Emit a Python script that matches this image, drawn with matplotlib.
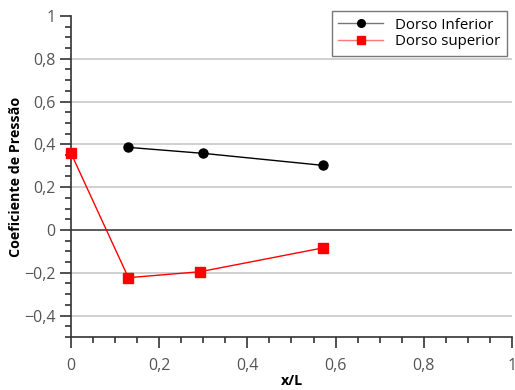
import matplotlib.pyplot as plt
from matplotlib.ticker import MultipleLocator, FuncFormatter

plt.rcParams['font.family'] = ['Open Sans', 'DejaVu Sans']

# dados
x_inf = [0.13, 0.30, 0.571]
cp_inf = [0.386, 0.358, 0.302]
x_sup = [0.0, 0.13, 0.293, 0.571]
cp_sup = [0.358, -0.223, -0.195, -0.084]


def fmt(v, pos):
    if abs(v) < 1e-9:
        return "0"
    s = f"{v:.1f}".rstrip("0").rstrip(".")
    return s.replace(".", ",").replace("-", "\u2212")


fig = plt.figure(figsize=(5.15, 3.9), dpi=100)
ax = fig.add_axes([0.138, 0.136, 0.856, 0.823])

for yv in [-0.4, -0.2, 0.2, 0.4, 0.6, 0.8]:
    ax.axhline(yv, color="#c8c8c8", lw=1.2, zorder=0)
ax.axhline(0, color="#404040", lw=1.2, zorder=1)

ax.plot(x_inf, cp_inf, color="black", lw=1, marker="o", ms=6.5,
        label="Dorso Inferior", clip_on=False, zorder=3)
ax.plot(x_sup, cp_sup, color="red", lw=1, marker="s", ms=6.5,
        label="Dorso superior", clip_on=False, zorder=3)

ax.set_xlim(0, 1)
ax.set_ylim(-0.5, 1)
ax.xaxis.set_major_locator(MultipleLocator(0.2))
ax.xaxis.set_minor_locator(MultipleLocator(0.05))
ax.yaxis.set_major_locator(MultipleLocator(0.2))
ax.yaxis.set_minor_locator(MultipleLocator(0.05))
ax.xaxis.set_major_formatter(FuncFormatter(fmt))
ax.yaxis.set_major_formatter(FuncFormatter(fmt))

for side in ["top", "right"]:
    ax.spines[side].set_visible(False)
for side in ["left", "bottom"]:
    ax.spines[side].set_color("#333333")
    ax.spines[side].set_linewidth(1.2)

ax.tick_params(which="major", direction="out", length=8, width=1.2,
               color="#333333", labelsize=11.5, labelcolor="#555555", pad=3)
ax.tick_params(axis="x", which="major", pad=7)
ax.tick_params(which="minor", direction="out", length=4, width=1.2,
               color="#333333")

ax.set_xlabel("x/L", fontsize=10.3, fontweight="bold", labelpad=0)
ax.set_ylabel("Coeficiente de Pressão", fontsize=10.3, fontweight="bold")
ax.yaxis.set_label_coords(-0.108, 0.5)

leg = ax.legend(loc="upper right", bbox_to_anchor=(1.0, 1.03), fontsize=10.8,
                frameon=True, fancybox=False, borderpad=0.45, handlelength=3.0,
                labelspacing=0.1, handletextpad=0.8, borderaxespad=0.3)
leg.get_frame().set_edgecolor("#555555")
leg.get_frame().set_linewidth(1)
for h, c in zip(leg.legend_handles, ["#777777", "#ff7777"]):
    h.set_color(c)
    h.set_markersize(5.5)
leg.legend_handles[0].set_markerfacecolor("black")
leg.legend_handles[0].set_markeredgecolor("black")
leg.legend_handles[1].set_markerfacecolor("red")
leg.legend_handles[1].set_markeredgecolor("red")

fig.savefig("out.png", dpi=100)
